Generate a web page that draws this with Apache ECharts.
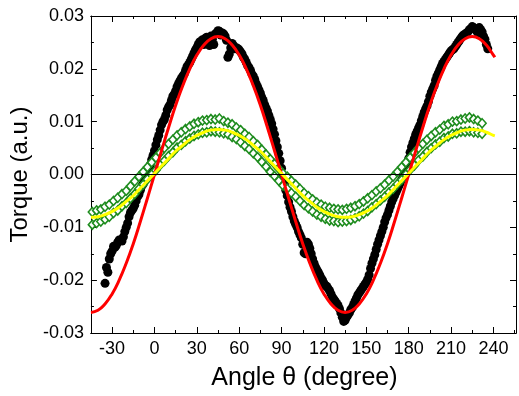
<!DOCTYPE html>
<html>
<head>
<meta charset="utf-8">
<script src="https://cdn.jsdelivr.net/npm/echarts@6/dist/echarts.min.js"></script>
<style>
  html, body { margin: 0; padding: 0; background: #fff; }
  #chart { width: 519px; height: 396px; }
</style>
</head>
<body>
<div id="chart"></div>
<script>
// measured torque (black dots), even angles
var blackAngle = [-35, -34, -32, -30, -28, -26, -24, -22, -20, -18, -16, -14, -12, -10, -8, -6, -4, -2,
  0, 2, 4, 6, 8, 10, 12, 14, 16, 18, 20, 22, 24, 26, 28, 30, 32, 34, 36, 38, 40, 42, 44, 46, 48, 50,
  52, 54, 56, 58, 60, 62, 64, 66, 68, 70, 72, 74, 76, 78, 80, 82, 84, 86, 88, 90, 92, 94, 96, 98, 100,
  102, 104, 106, 108, 110, 112, 114, 116, 118, 120, 122, 124, 126, 128, 130, 132, 134, 136, 138, 140,
  142, 144, 146, 148, 150, 152, 154, 156, 158, 160, 162, 164, 166, 168, 170, 172, 174, 176, 178, 180,
  182, 184, 186, 188, 190, 192, 194, 196, 198, 200, 202, 204, 206, 208, 210, 212, 214, 216, 218, 220,
  222, 224, 226, 228, 230, 232, 234, 236];
var blackTorque = [-0.0206, -0.0176, -0.0160, -0.0145, -0.0138, -0.0128, -0.0124, -0.0118, -0.0100,
  -0.0080, -0.0068, -0.0058, -0.0042, -0.0030, -0.0018, -0.0002, 0.0012, 0.0028,
  0.0045, 0.0066, 0.0084, 0.0100, 0.0112, 0.0128, 0.0140, 0.0152, 0.0166, 0.0177, 0.0186, 0.0197,
  0.0208, 0.0218, 0.0230, 0.0240, 0.0251, 0.0255, 0.0258, 0.0250, 0.0262, 0.0246, 0.0268, 0.0271,
  0.0268, 0.0262, 0.0222, 0.0240, 0.0244, 0.0240, 0.0236, 0.0228, 0.0218, 0.0206, 0.0197, 0.0186,
  0.0172, 0.0160, 0.0146, 0.0132, 0.0120, 0.0104, 0.0086, 0.0064, 0.0040, 0.0012, -0.0018, -0.0040,
  -0.0062, -0.0080, -0.0094, -0.0108, -0.0120, -0.0148, -0.0128, -0.0140, -0.0160, -0.0175, -0.0185,
  -0.0196, -0.0206, -0.0212, -0.0220, -0.0232, -0.0240, -0.0248, -0.0262, -0.0278, -0.0270, -0.0262,
  -0.0252, -0.0240, -0.0228, -0.0220, -0.0212, -0.0204, -0.0190, -0.0168, -0.0152, -0.0132, -0.0116,
  -0.0100, -0.0082, -0.0068, -0.0052, -0.0040, -0.0028, -0.0016, -0.0006, 0.0010, 0.0030, 0.0052,
  0.0068, 0.0082, 0.0094, 0.0110, 0.0124, 0.0138, 0.0156, 0.0168, 0.0186, 0.0198, 0.0210, 0.0218,
  0.0226, 0.0234, 0.0238, 0.0246, 0.0254, 0.0262, 0.0266, 0.0270, 0.0276, 0.0278, 0.0272, 0.0278,
  0.0270, 0.0256, 0.0238];
// measured torque (black dots), odd angles
var blackAngleOdd = [-33, -31, -29, -27, -25, -23, -21, -19, -17, -15, -13, -11, -9, -7, -5, -3, -1,
  1, 3, 5, 7, 9, 11, 13, 15, 17, 19, 21, 23, 25, 27, 29, 31, 33, 35, 37, 39, 41, 43, 45, 47, 49, 51,
  53, 55, 57, 59, 61, 63, 65, 67, 69, 71, 73, 75, 77, 79, 81, 83, 85, 87, 89, 91, 93, 95, 97, 99, 101,
  103, 105, 107, 109, 111, 113, 115, 117, 119, 121, 123, 125, 127, 129, 131, 133, 135, 137, 139, 141,
  143, 145, 147, 149, 151, 153, 155, 157, 159, 161, 163, 165, 167, 169, 171, 173, 175, 177, 179, 181,
  183, 185, 187, 189, 191, 193, 195, 197, 199, 201, 203, 205, 207, 209, 211, 213, 215, 217, 219, 221,
  223, 225, 227, 229, 231, 233, 235];
var blackTorqueOdd = [-0.0185, -0.0150, -0.0136, -0.0134, -0.0124, -0.0126, -0.0108, -0.0092, -0.0072,
  -0.0064, -0.0050, -0.0038, -0.0022, -0.0012, 0.0006, 0.0018, 0.0036,
  0.0056, 0.0074, 0.0094, 0.0104, 0.0122, 0.0132, 0.0148, 0.0158, 0.0172, 0.0182, 0.0190, 0.0204,
  0.0212, 0.0224, 0.0236, 0.0246, 0.0252, 0.0246, 0.0260, 0.0244, 0.0256, 0.0266, 0.0272, 0.0264,
  0.0266, 0.0254, 0.0228, 0.0248, 0.0238, 0.0238, 0.0232, 0.0222, 0.0212, 0.0202, 0.0190, 0.0180,
  0.0166, 0.0154, 0.0140, 0.0126, 0.0112, 0.0096, 0.0076, 0.0052, 0.0026, -0.0004, -0.0030, -0.0052,
  -0.0070, -0.0088, -0.0100, -0.0114, -0.0132, -0.0150, -0.0132, -0.0150, -0.0168, -0.0180, -0.0190,
  -0.0200, -0.0210, -0.0216, -0.0226, -0.0236, -0.0244, -0.0254, -0.0270, -0.0276, -0.0266, -0.0256,
  -0.0246, -0.0234, -0.0224, -0.0216, -0.0208, -0.0198, -0.0178, -0.0160, -0.0142, -0.0124, -0.0108,
  -0.0090, -0.0076, -0.0060, -0.0046, -0.0034, -0.0022, -0.0010, 0.0002, 0.0020, 0.0042,
  0.0060, 0.0076, 0.0088, 0.0102, 0.0118, 0.0130, 0.0148, 0.0162, 0.0178, 0.0192, 0.0204, 0.0214,
  0.0222, 0.0230, 0.0236, 0.0242, 0.0250, 0.0258, 0.0264, 0.0268, 0.0274, 0.0280, 0.0276, 0.0268,
  0.0274, 0.0262, 0.0246];

// measured torque (green open diamonds), two rows
var greenAngle = [-44, -41, -38, -35, -32, -29, -26, -23, -20, -17, -14, -11, -8, -5, -2, 1, 4, 7, 10,
  13, 16, 19, 22, 25, 28, 31, 34, 37, 40, 43, 46, 49, 52, 55, 58, 61, 64, 67, 70, 73, 76, 79, 82, 85,
  88, 91, 94, 97, 100, 103, 106, 109, 112, 115, 118, 121, 124, 127, 130, 133, 136, 139, 142, 145, 148,
  151, 154, 157, 160, 163, 166, 169, 172, 175, 178, 181, 184, 187, 190, 193, 196, 199, 202, 205, 208,
  211, 214, 217, 220, 223, 226, 229, 232];
var greenUpper = [-0.0071, -0.0068, -0.0066, -0.0061, -0.0057, -0.0050, -0.0044, -0.0037, -0.0031,
  -0.0022, -0.0013, -0.0004, 0.0005, 0.0014, 0.0023, 0.0032, 0.0041, 0.0050, 0.0058, 0.0066, 0.0074,
  0.0080, 0.0086, 0.0091, 0.0096, 0.0099, 0.0102, 0.0103, 0.0105, 0.0104, 0.0106, 0.0101, 0.0098,
  0.0095, 0.0089, 0.0084, 0.0077, 0.0071, 0.0063, 0.0056, 0.0047, 0.0038, 0.0029, 0.0020, 0.0011,
  0.0002, -0.0004, -0.0012, -0.0019, -0.0027, -0.0035, -0.0041, -0.0047, -0.0053, -0.0057, -0.0061,
  -0.0063, -0.0065, -0.0066, -0.0067, -0.0065, -0.0063, -0.0060, -0.0056, -0.0051, -0.0045, -0.0039,
  -0.0032, -0.0026, -0.0019, -0.0011, -0.0004, 0.0005, 0.0014, 0.0023, 0.0032, 0.0041, 0.0050, 0.0058,
  0.0066, 0.0073, 0.0080, 0.0085, 0.0092, 0.0095, 0.0100, 0.0101, 0.0104, 0.0106, 0.0108, 0.0105,
  0.0102, 0.0097];
var greenLower = [-0.0095, -0.0092, -0.0089, -0.0085, -0.0080, -0.0073, -0.0068, -0.0060, -0.0054,
  -0.0045, -0.0037, -0.0027, -0.0019, -0.0009, 0.0000, 0.0008, 0.0018, 0.0026, 0.0035, 0.0042, 0.0051,
  0.0056, 0.0063, 0.0068, 0.0073, 0.0076, 0.0079, 0.0080, 0.0082, 0.0081, 0.0080, 0.0078, 0.0076,
  0.0071, 0.0067, 0.0061, 0.0054, 0.0048, 0.0040, 0.0033, 0.0024, 0.0015, 0.0005, -0.0003, -0.0012,
  -0.0021, -0.0027, -0.0035, -0.0042, -0.0050, -0.0058, -0.0064, -0.0070, -0.0076, -0.0080, -0.0084,
  -0.0087, -0.0088, -0.0090, -0.0089, -0.0088, -0.0086, -0.0083, -0.0079, -0.0074, -0.0069, -0.0062,
  -0.0056, -0.0049, -0.0042, -0.0034, -0.0027, -0.0018, -0.0010, 0.0000, 0.0009, 0.0017, 0.0027,
  0.0034, 0.0043, 0.0050, 0.0057, 0.0062, 0.0069, 0.0072, 0.0077, 0.0078, 0.0081, 0.0081, 0.0082,
  0.0080, 0.0079, 0.0077];

// fitted curves (red and yellow)
var fitAngle = [-45, -40, -35, -30, -25, -20, -15, -10, -5, 0, 5, 10, 15, 20, 25, 30, 35, 40, 45, 50,
  55, 60, 65, 70, 75, 80, 85, 90, 95, 100, 105, 110, 115, 120, 125, 130, 135, 140, 145, 150, 155, 160,
  165, 170, 175, 180, 185, 190, 195, 200, 205, 210, 215, 220, 225, 230, 235, 240, 241];
var redFit = [-0.0261, -0.0257, -0.0245, -0.0226, -0.0200, -0.0168, -0.0131, -0.0089, -0.0045, 0.0000,
  0.0045, 0.0089, 0.0131, 0.0168, 0.0200, 0.0226, 0.0245, 0.0257, 0.0261, 0.0257, 0.0245, 0.0226,
  0.0200, 0.0168, 0.0131, 0.0089, 0.0045, 0.0000, -0.0045, -0.0089, -0.0131, -0.0168, -0.0200, -0.0226,
  -0.0245, -0.0257, -0.0261, -0.0257, -0.0245, -0.0226, -0.0200, -0.0168, -0.0131, -0.0089, -0.0045,
  0.0000, 0.0045, 0.0089, 0.0131, 0.0168, 0.0200, 0.0226, 0.0245, 0.0257, 0.0261, 0.0257, 0.0245,
  0.0226, 0.0222];
var yellowFit = [-0.0081, -0.0080, -0.0076, -0.0070, -0.0062, -0.0051, -0.0040, -0.0026, -0.0012, 0.0002,
  0.0016, 0.0030, 0.0044, 0.0055, 0.0066, 0.0074, 0.0080, 0.0084, 0.0085, 0.0084, 0.0080, 0.0074,
  0.0066, 0.0055, 0.0044, 0.0030, 0.0016, 0.0002, -0.0012, -0.0026, -0.0040, -0.0051, -0.0062, -0.0070,
  -0.0076, -0.0080, -0.0081, -0.0080, -0.0076, -0.0070, -0.0062, -0.0051, -0.0040, -0.0026, -0.0012,
  0.0002, 0.0016, 0.0030, 0.0044, 0.0055, 0.0066, 0.0074, 0.0080, 0.0084, 0.0085, 0.0084, 0.0080,
  0.0074, 0.0073];

var xMajorTicks = [-30, 0, 30, 60, 90, 120, 150, 180, 210, 240];
var xMinorTicks = [-45, -15, 15, 45, 75, 105, 135, 165, 195, 225, 255];

function pairs(xs, ys) {
  return xs.map(function (x, i) { return [x, ys[i]]; });
}

var chart = echarts.init(document.getElementById('chart'));
var font = 'Liberation Sans, Arial, sans-serif';

function xAxisDef(pos, ticks, len, labels) {
  return {
    type: 'value', position: pos, min: -45, max: 256,
    axisLine: { show: true, onZero: false, lineStyle: { color: '#000', width: 1 } },
    axisTick: { show: true, inside: true, length: len, customValues: ticks,
      lineStyle: { color: '#000', width: 1 } },
    axisLabel: labels ? { show: true, customValues: xMajorTicks, color: '#000',
      fontSize: 18, fontFamily: font, margin: 7 } : { show: false },
    splitLine: { show: false }
  };
}

function yAxisDef(pos, labels) {
  return {
    type: 'value', position: pos, min: -0.03, max: 0.03, interval: 0.01,
    axisLine: { show: true, onZero: false, lineStyle: { color: '#000', width: 1 } },
    axisTick: { show: true, inside: true, length: 6, lineStyle: { color: '#000' } },
    minorTick: { show: true, splitNumber: 2, length: 3, lineStyle: { color: '#000' } },
    axisLabel: labels ? { show: true, color: '#000', fontSize: 18, fontFamily: font, margin: 7,
      formatter: function (v) { return v.toFixed(2); } } : { show: false },
    splitLine: { show: false },
    minorSplitLine: { show: false }
  };
}

var bottomMajor = xAxisDef('bottom', xMajorTicks, 6, true);
bottomMajor.name = 'Angle \u03b8 (degree)';
bottomMajor.nameLocation = 'middle';
bottomMajor.nameGap = 33;
bottomMajor.nameTextStyle = { color: '#000', fontSize: 25, fontFamily: font, padding: [0, 0, 0, 2] };

var leftY = yAxisDef('left', true);
leftY.name = 'Torque (a.u.)';
leftY.nameLocation = 'middle';
leftY.nameGap = 53;
leftY.nameTextStyle = { color: '#000', fontSize: 24, fontFamily: font };

var dotStyle = { color: '#000', opacity: 1 };
var diamondStyle = { color: '#fff', borderColor: '#1e8c1e', borderWidth: 1.6, opacity: 1 };

chart.setOption({
  animation: false,
  backgroundColor: '#fff',
  grid: { left: 73, right: 3, top: 16, bottom: 60 },
  xAxis: [
    bottomMajor,
    xAxisDef('bottom', xMinorTicks, 3, false),
    xAxisDef('top', xMajorTicks, 6, false),
    xAxisDef('top', xMinorTicks, 3, false)
  ],
  yAxis: [leftY, yAxisDef('right', false)],
  series: [
    {
      name: 'black', type: 'scatter', data: pairs(blackAngle, blackTorque),
      symbol: 'circle', symbolSize: 9, itemStyle: dotStyle,
      markLine: {
        silent: true, symbol: 'none', label: { show: false },
        lineStyle: { color: '#000', width: 1, type: 'solid' },
        data: [{ yAxis: 0 }]
      }
    },
    {
      name: 'blackOdd', type: 'scatter', data: pairs(blackAngleOdd, blackTorqueOdd),
      symbol: 'circle', symbolSize: 9, itemStyle: dotStyle
    },
    {
      name: 'greenUpper', type: 'scatter', data: pairs(greenAngle, greenUpper),
      symbol: 'diamond', symbolSize: [8, 9], itemStyle: diamondStyle
    },
    {
      name: 'greenLower', type: 'scatter', data: pairs(greenAngle, greenLower),
      symbol: 'diamond', symbolSize: [8, 9], itemStyle: diamondStyle
    },
    {
      name: 'redFit', type: 'line', data: pairs(fitAngle, redFit), smooth: true,
      showSymbol: false, lineStyle: { color: '#ff0000', width: 3 }
    },
    {
      name: 'yellowFit', type: 'line', data: pairs(fitAngle, yellowFit), smooth: true,
      showSymbol: false, lineStyle: { color: '#ffff00', width: 3 }
    }
  ]
});
</script>
</body>
</html>
